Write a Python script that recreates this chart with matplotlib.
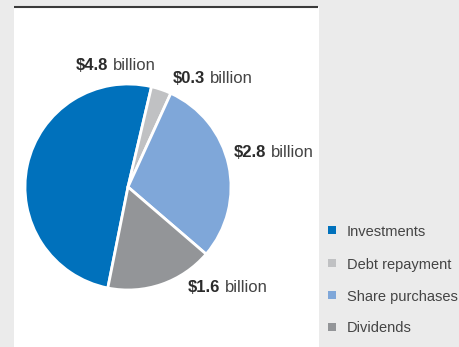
import matplotlib
matplotlib.use("Agg")
import matplotlib.pyplot as plt
from matplotlib.patches import Rectangle

# Uses of cash, in billions of dollars
categories = ["Investments", "Debt repayment", "Share purchases", "Dividends"]
values = [4.8, 0.3, 2.8, 1.6]
colors = ["#0071bc", "#c0c1c3", "#7fa7d9", "#939598"]
value_labels = ["$4.8", "$0.3", "$2.8", "$1.6"]

W, H = 459, 347
plt.rcParams["font.family"] = ["Liberation Sans", "DejaVu Sans"]

fig = plt.figure(figsize=(W / 100, H / 100), dpi=100, facecolor="#ebebeb")
ax = fig.add_axes([0, 0, 1, 1])


def Y(y):
    # convert a top-down pixel row into the axes' bottom-up coordinate
    return H - y


# white panel with a dark rule along its top
ax.add_patch(Rectangle((14, 0), 305, Y(7), facecolor="white", edgecolor="none", zorder=0))
ax.plot([14, 318], [Y(6.5), Y(6.5)], color="#3a3a3a", lw=1.5, solid_capstyle="butt", zorder=1)

# pie: clockwise, investments starting just left of six o'clock
start = 90 - 191.3
ax.pie(values, colors=colors, startangle=start, counterclock=False,
       center=(128, Y(187)), radius=103, frame=True,
       wedgeprops=dict(edgecolor="white", linewidth=2))
ax.set_xlim(0, W)
ax.set_ylim(0, H)
ax.set_aspect("equal")
ax.axis("off")

# value labels: bold amount followed by regular "billion"
label_pos = {"$4.8": (76, 70), "$0.3": (173, 83), "$2.8": (234, 157), "$1.6": (188, 292)}
renderer = fig.canvas.get_renderer()
for lab in value_labels:
    x, y = label_pos[lab]
    t = ax.text(x, Y(y), lab, fontsize=12, fontweight="bold", color="#2b2b2b",
                ha="left", va="baseline")
    bb = t.get_window_extent(renderer=renderer)
    ax.text(bb.x1 + 5, Y(y), "billion", fontsize=12, color="#444444",
            ha="left", va="baseline")

# legend
legend_rows = [229.5, 262.5, 295, 326.5]
for name, col, yc in zip(categories, colors, legend_rows):
    ax.add_patch(Rectangle((328, Y(yc) - 4), 8, 8, facecolor=col, edgecolor="none"))
    ax.text(347, Y(yc + 6), name, fontsize=10.5, color="#444444", ha="left", va="baseline")

fig.savefig("out.png", dpi=100, facecolor=fig.get_facecolor())
